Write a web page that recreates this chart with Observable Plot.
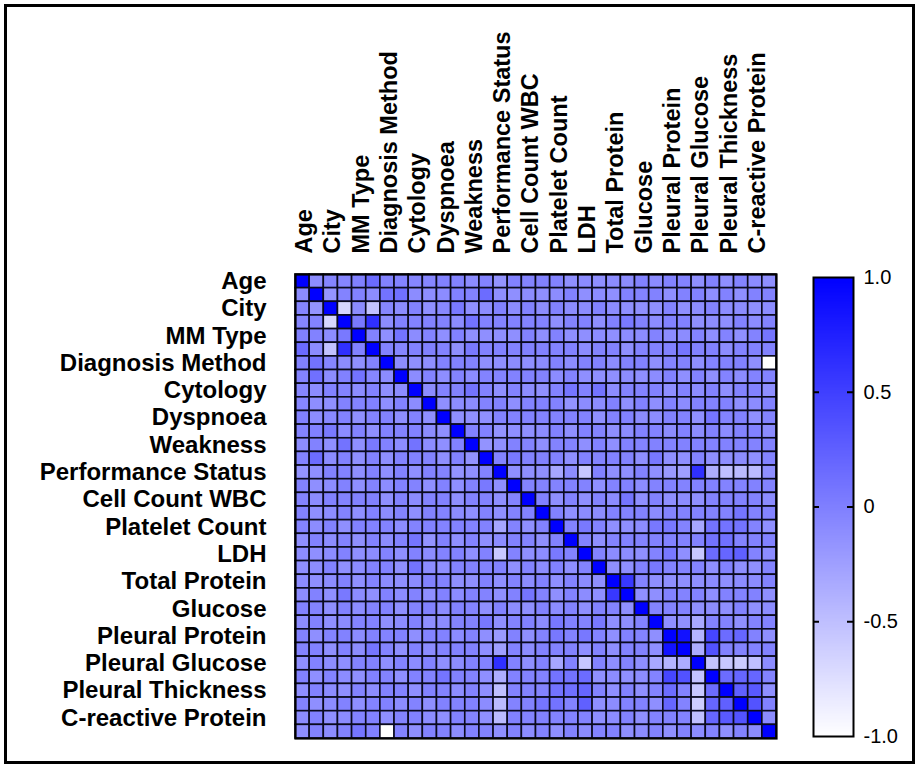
<!DOCTYPE html>
<html>
<head>
<meta charset="utf-8">
<script src="https://cdn.jsdelivr.net/npm/d3@7"></script>
<script src="https://cdn.jsdelivr.net/npm/@observablehq/plot@0.6"></script>
<style>
  html, body { margin: 0; padding: 0; background: #fff; }
  #wrap { position: relative; width: 919px; height: 768px; overflow: hidden; }
  #wrap > svg { position: absolute; left: 0; top: 0; }
  #border { position: absolute; left: 4px; top: 4px; width: 911px; height: 760px; box-sizing: border-box; border: 3px solid #000; pointer-events: none; }
</style>
</head>
<body>
<div id="wrap"><div id="border"></div></div>
<script>
// Labels shown on every other variable (34 variables in the matrix)
const variableLabels = ["Age","City","MM Type","Diagnosis Method","Cytology","Dyspnoea","Weakness","Performance Status","Cell Count WBC","Platelet Count","LDH","Total Protein","Glucose","Pleural Protein","Pleural Glucose","Pleural Thickness","C-reactive Protein"];
const variableCount = 34;
const labelledIndices = [0,2,4,6,8,10,12,14,16,18,20,22,24,26,28,30,32];

// Colour bar ticks
const colorTicks = [1, 0.5, 0, -0.5, -1];
const colorTickLabels = ["1.0", "0.5", "0", "-0.5", "-1.0"];
const colorInnerTicks = [0.5, 0, -0.5];

// Lower triangle of the (symmetric) correlation matrix; row r holds columns 0..r-1
const corrLower = [
  [],
  [-0.1],
  [-0.04, -0.16],
  [-0.05, -0.03, -0.68],
  [0.0, -0.02, -0.1, 0.05],
  [0.16, -0.1, -0.52, 0.62, -0.02],
  [-0.02, 0.1, -0.05, -0.1, -0.12, -0.03],
  [-0.03, 0.12, -0.1, -0.01, 0.1, -0.05, -0.1],
  [-0.05, -0.1, -0.02, -0.03, -0.1, -0.02, -0.12, -0.1],
  [-0.05, -0.11, -0.12, -0.02, -0.03, -0.01, -0.12, -0.03, -0.1],
  [-0.02, -0.1, -0.07, -0.02, -0.12, -0.03, -0.02, -0.11, -0.02, -0.12],
  [-0.03, -0.01, 0.05, -0.1, -0.02, -0.12, -0.02, -0.03, -0.02, -0.1, -0.12],
  [-0.1, -0.02, -0.12, 0.1, -0.12, 0.05, -0.02, -0.1, 0.1, -0.1, -0.12, -0.02],
  [-0.03, 0.15, -0.1, -0.02, -0.12, -0.02, -0.12, -0.03, -0.02, -0.03, -0.12, -0.02, -0.15],
  [-0.15, -0.12, -0.02, -0.03, -0.12, -0.02, -0.12, -0.03, -0.12, -0.02, -0.03, -0.15, -0.12, -0.03],
  [-0.02, -0.12, -0.1, -0.02, -0.12, -0.03, -0.1, -0.02, -0.03, -0.12, -0.02, -0.12, -0.02, 0.05, -0.12],
  [-0.03, -0.1, -0.02, -0.03, -0.02, -0.01, -0.12, -0.02, -0.1, -0.03, -0.02, -0.12, -0.03, -0.02, -0.12, -0.03],
  [-0.02, -0.12, -0.1, -0.03, -0.12, -0.02, -0.1, -0.03, -0.12, -0.02, -0.03, -0.1, -0.12, -0.02, -0.12, -0.03, -0.02],
  [-0.03, -0.1, -0.02, -0.12, -0.02, -0.03, -0.02, -0.1, -0.03, -0.02, -0.03, -0.02, -0.03, -0.02, -0.3, -0.03, -0.12, -0.02],
  [-0.12, -0.02, -0.1, -0.03, -0.12, -0.02, -0.1, -0.03, 0.08, -0.15, -0.02, -0.12, -0.03, -0.12, -0.1, -0.02, -0.03, -0.12, -0.02],
  [-0.1, -0.12, -0.1, -0.02, -0.12, -0.1, -0.03, -0.12, -0.02, -0.1, -0.03, -0.02, -0.12, -0.02, -0.56, -0.03, -0.12, -0.1, 0.05, -0.02],
  [-0.12, -0.1, -0.02, -0.12, -0.1, -0.03, -0.02, -0.12, 0.1, -0.1, -0.12, -0.03, -0.02, -0.03, -0.02, -0.12, -0.03, -0.1, -0.02, -0.12, -0.03],
  [-0.1, -0.12, -0.1, -0.02, -0.12, -0.03, -0.1, -0.12, -0.1, -0.02, -0.03, -0.12, -0.12, -0.02, -0.12, -0.03, -0.1, -0.02, -0.12, -0.03, -0.1, -0.12],
  [-0.1, -0.02, -0.12, 0.05, -0.1, -0.12, -0.02, -0.1, -0.03, -0.12, -0.02, -0.1, -0.02, -0.03, -0.12, -0.02, 0.08, -0.03, -0.12, -0.02, -0.1, -0.12, 0.56],
  [-0.02, -0.03, -0.12, -0.02, -0.1, -0.03, -0.02, -0.12, -0.03, -0.02, -0.1, -0.02, -0.03, -0.12, -0.02, -0.1, -0.12, -0.02, -0.1, -0.03, -0.12, -0.02, -0.03, -0.12],
  [-0.1, -0.02, -0.12, -0.1, -0.03, -0.02, -0.12, -0.1, -0.02, -0.12, -0.1, -0.03, -0.02, 0.06, -0.12, -0.03, -0.02, -0.1, 0.06, -0.02, -0.03, 0.06, -0.12, -0.12, -0.03],
  [-0.02, -0.12, -0.03, -0.02, -0.1, -0.02, -0.03, -0.02, -0.12, -0.03, -0.02, -0.1, -0.03, -0.12, -0.2, -0.02, -0.12, -0.03, 0.06, -0.02, 0.06, -0.03, -0.12, -0.02, -0.03, -0.12],
  [-0.03, -0.02, -0.12, -0.02, -0.1, 0.08, -0.03, -0.12, -0.02, -0.1, -0.03, -0.02, -0.02, -0.12, -0.25, -0.03, -0.1, -0.02, -0.03, -0.02, -0.12, -0.03, -0.12, -0.03, -0.02, -0.12, 0.86],
  [-0.12, -0.02, -0.1, -0.12, -0.03, -0.02, -0.12, -0.03, -0.1, -0.02, -0.12, -0.1, -0.02, -0.03, 0.62, -0.02, -0.12, -0.03, -0.3, -0.02, -0.56, -0.03, -0.12, -0.03, -0.12, -0.32, -0.4, -0.35],
  [-0.02, -0.12, -0.03, -0.1, -0.12, -0.02, -0.03, -0.12, -0.02, -0.03, 0.08, -0.02, -0.03, -0.12, -0.36, -0.02, -0.03, -0.02, 0.1, 0.1, 0.15, -0.12, -0.1, -0.12, -0.1, -0.03, 0.45, 0.36, -0.52],
  [-0.12, -0.02, -0.1, -0.12, -0.03, -0.1, -0.02, -0.03, -0.12, -0.02, -0.03, -0.1, -0.02, -0.12, -0.5, -0.03, -0.02, -0.03, 0.1, 0.12, 0.2, -0.02, -0.12, -0.02, -0.12, -0.03, 0.15, -0.02, -0.56, 0.15],
  [-0.03, -0.12, -0.1, -0.02, -0.12, -0.03, -0.02, -0.1, -0.03, -0.12, -0.02, -0.03, -0.02, -0.1, -0.46, -0.03, -0.02, 0.08, 0.1, -0.03, 0.25, -0.12, -0.1, -0.03, -0.02, -0.12, 0.2, -0.03, -0.6, 0.2, 0.25],
  [-0.1, -0.02, -0.12, -0.1, -0.03, -0.02, -0.12, -0.03, -0.02, -0.1, -0.12, -0.02, -0.03, -0.12, -0.46, -0.02, -0.03, -0.02, -0.03, -0.02, -0.03, -0.12, -0.1, -0.02, -0.12, -0.03, -0.02, -0.03, -0.5, 0.2, 0.3, 0.35],
  [-0.12, -0.02, -0.1, -0.03, 0.08, -0.02, -1.0, -0.03, -0.12, -0.02, -0.03, -0.1, -0.02, -0.03, -0.12, -0.02, -0.1, -0.03, -0.12, -0.02, -0.1, -0.03, -0.02, -0.12, -0.1, -0.03, -0.12, -0.02, -0.1, -0.03, -0.12, -0.02, -0.1]
];

// Build full symmetric table for Plot
const variableIndex = d3.range(variableCount);
const cells = [];
for (const r of variableIndex) {
  for (const c of variableIndex) {
    const v = r === c ? 1 : (r > c ? corrLower[r][c] : corrLower[c][r]);
    cells.push({row: r, col: c, value: v});
  }
}

const colorScale = {type: "linear", domain: [-1, 1], range: ["#ffffff", "#0000ff"], interpolate: "rgb"};
const font = "'Liberation Sans', Arial, Helvetica, sans-serif";
const labelOf = i => variableLabels[labelledIndices.indexOf(i)];

const heatmap = Plot.plot({
  width: 919, height: 768,
  marginLeft: 295, marginRight: 143, marginTop: 274, marginBottom: 30,
  style: {fontFamily: font, background: "transparent", color: "#000"},
  x: {type: "band", domain: variableIndex, padding: 0, round: false, axis: null, label: null},
  y: {type: "band", domain: variableIndex, padding: 0, round: false, axis: null, label: null},
  color: colorScale,
  marks: [
    Plot.cell(cells, {x: "col", y: "row", fill: "value", stroke: "#0a0a1e", strokeWidth: 1.6}),
    Plot.frame({stroke: "#000", strokeWidth: 2.2}),
    Plot.axisX({anchor: "top", label: null, ticks: labelledIndices, tickFormat: labelOf, tickRotate: -90, tickSize: 0, tickPadding: 21, dx: 2, fontSize: 23.5, fontWeight: "bold", fill: "#000"}),
    Plot.axisY({anchor: "left", label: null, ticks: labelledIndices, tickFormat: labelOf, tickSize: 0, tickPadding: 29, fontSize: 24, fontWeight: "bold", fill: "#000"})
  ]
});

const colorbar = Plot.plot({
  width: 919, height: 768,
  marginLeft: 813, marginRight: 66, marginTop: 277, marginBottom: 32,
  style: {fontFamily: font, background: "transparent", color: "#000"},
  x: {domain: [0, 1], axis: null},
  y: {domain: [-1, 1], axis: null},
  color: colorScale,
  marks: [
    Plot.raster({fill: (x, y) => y, x1: 0, x2: 1, y1: -1, y2: 1, width: 2, height: 400, imageRendering: "auto"}),
    Plot.frame({stroke: "#000", strokeWidth: 2}),
    Plot.tickY(colorInnerTicks, {y: d => d, insetRight: 34, stroke: "#000", strokeWidth: 2}),
    Plot.tickY(colorInnerTicks, {y: d => d, insetLeft: 34, stroke: "#000", strokeWidth: 2}),
    Plot.axisY({anchor: "right", label: null, ticks: colorTicks, tickFormat: d => colorTickLabels[colorTicks.indexOf(d)], tickSize: 0, tickPadding: 10, fontSize: 20, fill: "#000"})
  ]
});

const wrap = document.getElementById("wrap");
wrap.insertBefore(colorbar, wrap.firstChild);
wrap.insertBefore(heatmap, wrap.firstChild);
</script>
</body>
</html>
